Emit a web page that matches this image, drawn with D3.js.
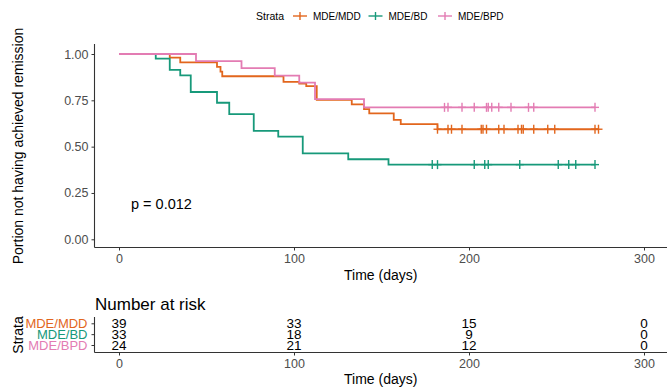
<!DOCTYPE html>
<html lang="en">
<head>
    <meta charset="UTF-8">
    <title>Remission</title>
    <script type="text/javascript" src="https://cdn.jsdelivr.net/npm/d3@7"></script>
    <style type="text/css">
        body {margin: 0; background: #fff;}
        svg {font-family: "Liberation Sans", Arial, sans-serif; display: block;}
    </style>
</head>
<body>
    <script type="text/javascript">

        //Width and height
        var w = 667;
        var h = 388;

        var strata = ['MDE/MDD', 'MDE/BD', 'MDE/BPD'];
        var colors = ['#E2661D', '#17997A', '#E37CB3'];

        // event times (days) and survival after each step
        var mddTimes = [29, 35, 56, 58, 59, 94, 103, 107, 113, 133, 140, 143, 157, 161, 182];
        var mddSurv = [0.98, 0.955, 0.93, 0.905, 0.88, 0.85, 0.84, 0.827, 0.752, 0.728, 0.703, 0.68, 0.644, 0.622, 0.594];
        var mddCens = [182, 188, 190, 196, 207, 208, 210, 217, 220, 228, 230, 231, 237, 245, 249, 272, 274];

        var bdTimes = [21, 29, 35, 41, 56, 63, 77, 91, 105, 131, 154];
        var bdSurv = [0.975, 0.914, 0.885, 0.795, 0.737, 0.676, 0.585, 0.554, 0.464, 0.432, 0.403];
        var bdCens = [179, 182, 203, 209, 211, 229, 251, 257, 261, 272];

        var bpdTimes = [44, 70, 89, 103, 112, 140];
        var bpdSurv = [0.962, 0.924, 0.883, 0.845, 0.757, 0.712];
        var bpdCens = [186, 188, 196, 203, 210, 211, 213, 217, 224, 234, 237, 272];

        // number at risk table
        var riskTimes = [0, 100, 200, 300];
        var mddRisk = [39, 33, 15, 0];
        var bdRisk = [33, 18, 9, 0];
        var bpdRisk = [24, 21, 12, 0];

        var xTicks = [0, 100, 200, 300];
        var yTicks = [0, 0.25, 0.5, 0.75, 1];
        var pText = 'p = 0.012';

        var curves = [
            {name: strata[0], times: mddTimes, surv: mddSurv, cens: mddCens, risk: mddRisk, color: colors[0]},
            {name: strata[1], times: bdTimes, surv: bdSurv, cens: bdCens, risk: bdRisk, color: colors[1]},
            {name: strata[2], times: bpdTimes, surv: bpdSurv, cens: bpdCens, risk: bpdRisk, color: colors[2]}
        ];

        var panelLeft = 94.5;
        var panelRight = w;

        var x = d3.scaleLinear().domain([0, 300]).range([119, 644]);
        var y = d3.scaleLinear().domain([0, 1]).range([239.3, 54]);

        //Create SVG element
        var svg = d3.select("body")
            .append("svg")
            .attr("width", w)
            .attr("height", h);

        svg.append("rect").attr("width", w).attr("height", h).attr("fill", "#fff");

        // survival at time t (step function)
        function survAt(c, t) {
            var i = d3.bisectRight(c.times, t);
            return i === 0 ? 1 : c.surv[i - 1];
        }

        function stepPoints(c) {
            var pts = [[0, 1]];
            c.times.forEach(function(t, i) { pts.push([t, c.surv[i]]); });
            var end = d3.max(c.cens);
            pts.push([end, survAt(c, end)]);
            return pts;
        }

        var line = d3.line()
            .x(function(d) { return x(d[0]); })
            .y(function(d) { return y(d[1]); })
            .curve(d3.curveStepAfter);

        // axes of main plot
        var yAxis = svg.append("g")
            .attr("transform", "translate(" + panelLeft + ",0)")
            .call(d3.axisLeft(y).tickValues(yTicks).tickFormat(d3.format(".2f")).tickSize(3).tickPadding(3));
        yAxis.select(".domain").remove();
        yAxis.selectAll("line").attr("stroke", "#333");
        yAxis.selectAll("text").attr("font-size", "12.5px").attr("fill", "#4D4D4D")
            .attr("font-family", "Liberation Sans, Arial, sans-serif");

        var xAxis = svg.append("g")
            .attr("transform", "translate(0,247.5)")
            .call(d3.axisBottom(x).tickValues(xTicks).tickFormat(d3.format("d")).tickSize(3).tickPadding(4));
        xAxis.select(".domain").remove();
        xAxis.selectAll("line").attr("stroke", "#333");
        xAxis.selectAll("text").attr("font-size", "12.5px").attr("fill", "#4D4D4D")
            .attr("font-family", "Liberation Sans, Arial, sans-serif");

        svg.append("line").attr("x1", panelLeft).attr("x2", panelLeft).attr("y1", 44).attr("y2", 247.5)
            .attr("stroke", "#333").attr("stroke-width", 1.1);
        svg.append("line").attr("x1", panelLeft).attr("x2", panelRight).attr("y1", 247.5).attr("y2", 247.5)
            .attr("stroke", "#333").attr("stroke-width", 1.1);

        // curves
        svg.selectAll("path.km")
            .data(curves)
            .enter()
            .append("path")
            .attr("class", "km")
            .attr("d", function(d) { return line(stepPoints(d)); })
            .attr("fill", "none")
            .attr("stroke", function(d) { return d.color; })
            .attr("stroke-width", 1.8);

        // censor marks
        curves.forEach(function(c) {
            var marks = svg.append("g").attr("stroke", c.color).attr("stroke-width", 1.4);
            c.cens.forEach(function(t) {
                var cx = x(t), cy = y(survAt(c, t));
                marks.append("line").attr("x1", cx - 4).attr("x2", cx + 4).attr("y1", cy).attr("y2", cy);
                marks.append("line").attr("x1", cx).attr("x2", cx).attr("y1", cy - 4.5).attr("y2", cy + 4.5);
            });
        });

        svg.append("text")
            .text(pText)
            .attr("x", 131)
            .attr("y", 209)
            .attr("font-size", "14.5px");

        svg.append("text")
            .text("Time (days)")
            .attr("x", (panelLeft + panelRight) / 2)
            .attr("y", 280)
            .attr("text-anchor", "middle")
            .attr("font-size", "14px");

        svg.append("text")
            .text("Portion not having achieved remission")
            .attr("transform", "translate(23,146) rotate(-90)")
            .attr("text-anchor", "middle")
            .attr("font-size", "14px");

        // legend
        svg.append("text").text("Strata").attr("x", 284).attr("y", 19.5)
            .attr("text-anchor", "end").attr("font-size", "10.5px");
        var legX = [300, 375.5, 445];
        curves.forEach(function(c, i) {
            var g = svg.append("g").attr("stroke", c.color).attr("stroke-width", 1.4);
            g.append("line").attr("x1", legX[i] - 7).attr("x2", legX[i] + 7).attr("y1", 16).attr("y2", 16);
            g.append("line").attr("x1", legX[i]).attr("x2", legX[i]).attr("y1", 12).attr("y2", 20);
            svg.append("text").text(c.name).attr("x", legX[i] + 13).attr("y", 19.5)
                .attr("font-size", "10px");
        });

        // risk table
        svg.append("text")
            .text("Number at risk")
            .attr("x", 95)
            .attr("y", 310)
            .attr("font-size", "17px");

        var rowY = d3.scalePoint().domain(strata).range([323.3, 345]);

        var tAxisY = svg.append("g")
            .attr("transform", "translate(" + panelLeft + ",0)")
            .call(d3.axisLeft(rowY).tickSize(3).tickPadding(4));
        tAxisY.select(".domain").remove();
        tAxisY.selectAll("line").attr("stroke", "#333");
        tAxisY.selectAll("text")
            .attr("font-size", "13px")
            .attr("font-family", "Liberation Sans, Arial, sans-serif")
            .attr("fill", function(d, i) { return colors[i]; });

        svg.append("line").attr("x1", panelLeft).attr("x2", panelLeft).attr("y1", 317).attr("y2", 352.5)
            .attr("stroke", "#333").attr("stroke-width", 1.1);
        svg.append("line").attr("x1", panelLeft).attr("x2", panelRight).attr("y1", 352.5).attr("y2", 352.5)
            .attr("stroke", "#333").attr("stroke-width", 1.1);

        var tAxisX = svg.append("g")
            .attr("transform", "translate(0,352.5)")
            .call(d3.axisBottom(x).tickValues(xTicks).tickFormat(d3.format("d")).tickSize(3).tickPadding(4));
        tAxisX.select(".domain").remove();
        tAxisX.selectAll("line").attr("stroke", "#333");
        tAxisX.selectAll("text").attr("font-size", "12.5px").attr("fill", "#4D4D4D")
            .attr("font-family", "Liberation Sans, Arial, sans-serif");

        curves.forEach(function(c) {
            svg.append("g").selectAll("text")
                .data(c.risk)
                .enter()
                .append("text")
                .text(function(d) { return d; })
                .attr("x", function(d, i) { return x(riskTimes[i]); })
                .attr("y", rowY(c.name))
                .attr("dy", "0.36em")
                .attr("text-anchor", "middle")
                .attr("font-size", "13.5px");
        });

        svg.append("text")
            .text("Time (days)")
            .attr("x", (panelLeft + panelRight) / 2)
            .attr("y", 384)
            .attr("text-anchor", "middle")
            .attr("font-size", "14px");

        svg.append("text")
            .text("Strata")
            .attr("transform", "translate(23,335) rotate(-90)")
            .attr("text-anchor", "middle")
            .attr("font-size", "14px");

    </script>

</body>
</html>
